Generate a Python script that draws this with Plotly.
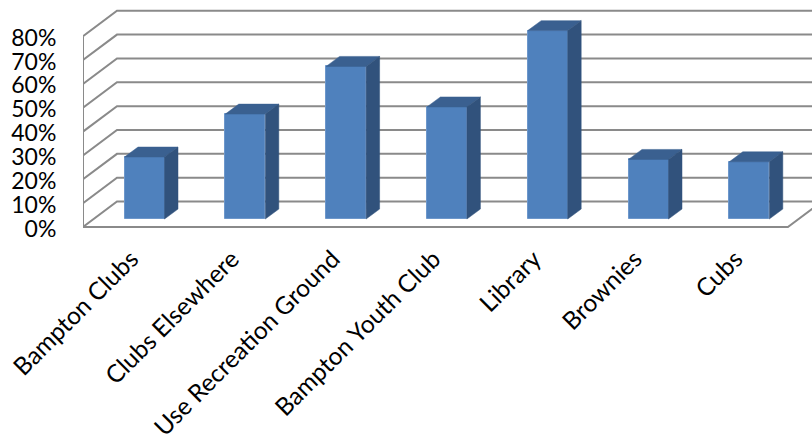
import plotly.graph_objects as go

categories = ["Bampton Clubs", "Clubs Elsewhere", "Use Recreation Ground",
              "Bampton Youth Club", "Library", "Brownies", "Cubs"]
values = [26, 44, 64, 47, 79, 25, 24]
tick_values = [0, 10, 20, 30, 40, 50, 60, 70, 80]

W, H = 812, 439
LEFT, FLOOR = 83, 227.5
UX = 100.7      # px per category
UY = 2.39       # px per percent
PAD = 3         # px of plot area below the floor line
XMAX = (W - LEFT) / UX
YMAX = FLOOR / UY
YMIN = -PAD / UY
WALL_DX, WALL_DY = 34 / UX, 25.5 / UY
BAR_X0, BAR_BASE = 61.5 / UX, 8 / UY
BAR_W = 40 / UX
STEP = 100.8 / UX
BAR_DX, BAR_DY = 13.5 / UX, 10 / UY
LABEL_NUDGE = 1.5 / UY
GRID = "#8a8a8a"
FRONT, TOP, SIDE = "#4f81bd", "#3a6090", "#31527c"

fig = go.Figure()
n = len(categories)
xright = n * UX / UX


def line(xs, ys):
    fig.add_trace(go.Scatter(x=xs, y=ys, mode="lines", showlegend=False, hoverinfo="skip",
                             line=dict(color=GRID, width=2), xaxis="x", yaxis="y"))


for v in tick_values:
    line([0, WALL_DX, XMAX + 1], [v, v + WALL_DY, v + WALL_DY])
line([0, 0], [0, max(tick_values)])
line([0, xright, xright + WALL_DX], [0, 0, WALL_DY])

centers = [BAR_X0 + i * STEP for i in range(n)]
fig.add_trace(go.Bar(x=centers, y=values, base=[BAR_BASE] * n, width=BAR_W, showlegend=False,
                     marker=dict(color=FRONT, line=dict(color="#6d97cb", width=1)),
                     xaxis="x2", yaxis="y2"))


def poly(xs, ys, color):
    fig.add_trace(go.Scatter(x=xs, y=ys, mode="lines", fill="toself", fillcolor=color,
                             line=dict(color=color, width=0.5), showlegend=False,
                             hoverinfo="skip", xaxis="x2", yaxis="y2"))


for c, v in zip(centers, values):
    l, r = c - BAR_W / 2, c + BAR_W / 2
    b, t = BAR_BASE, BAR_BASE + v
    poly([l, r, r + BAR_DX, l + BAR_DX, l], [t, t, t + BAR_DY, t + BAR_DY, t], TOP)
    poly([r, r + BAR_DX, r + BAR_DX, r, r], [b, b + BAR_DY, t + BAR_DY, t, b], SIDE)

font = "Lato, Carlito, sans-serif"
fig.update_layout(
    width=W, height=H, margin=dict(l=LEFT, r=0, t=0, b=H - FLOOR - PAD),
    paper_bgcolor="white", plot_bgcolor="white", font=dict(family=font, color="#000000"),
    bargap=0, showlegend=False,
    xaxis=dict(range=[0, XMAX], tickmode="array", tickvals=[i + 0.48 for i in range(n)],
               ticktext=categories, tickangle=-45, tickfont=dict(size=24.5),
               showgrid=False, zeroline=False, showline=False, ticks="outside",
               ticklen=4, tickcolor="rgba(0,0,0,0)", automargin=False),
    yaxis=dict(range=[YMIN, YMAX], tickmode="array", tickvals=[v - LABEL_NUDGE for v in tick_values],
               ticktext=[f"{v}%" for v in tick_values], tickfont=dict(size=23),
               showgrid=False, zeroline=False, showline=False, ticks="outside",
               ticklen=21, tickcolor="rgba(0,0,0,0)", automargin=False),
    xaxis2=dict(range=[0, XMAX], overlaying="x", visible=False),
    yaxis2=dict(range=[YMIN, YMAX], overlaying="y", visible=False),
)
fig.write_html("out.html", config=dict(displayModeBar=False),
               post_script="document.body.style.margin='0';document.documentElement.style.overflow='hidden';")
